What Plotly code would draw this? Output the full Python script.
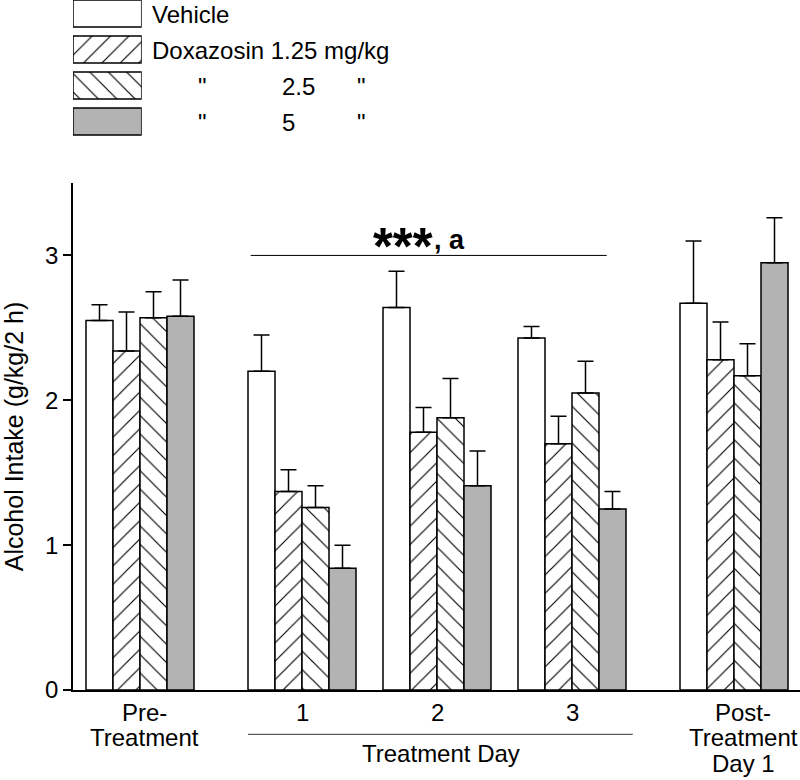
import plotly.graph_objects as go

# ---------------- data ----------------
groups = ["Pre-Treatment", "Day 1", "Day 2", "Day 3", "Post-Treatment Day 1"]
group_label_lines = [["Pre-", "Treatment"], ["1"], ["2"], ["3"], ["Post-", "Treatment", "Day 1"]]
series_names = ["Vehicle", "Doxazosin 1.25 mg/kg", "Doxazosin 2.5 mg/kg", "Doxazosin 5 mg/kg"]
doses = ["1.25", "2.5", "5"]

vehicle_mean = [2.55, 2.20, 2.64, 2.43, 2.67]
vehicle_sem = [0.11, 0.25, 0.25, 0.08, 0.43]
dox125_mean = [2.34, 1.37, 1.78, 1.70, 2.28]
dox125_sem = [0.27, 0.15, 0.17, 0.19, 0.26]
dox25_mean = [2.57, 1.26, 1.88, 2.05, 2.17]
dox25_sem = [0.18, 0.15, 0.27, 0.22, 0.22]
dox5_mean = [2.58, 0.84, 1.41, 1.25, 2.95]
dox5_sem = [0.25, 0.16, 0.24, 0.12, 0.31]

y_ticks = [0, 1, 2, 3]
y_title = "Alcohol Intake (g/kg/2 h)"
sig_stars = "***"
sig_letter = ", a"
treatment_day_label = "Treatment Day"

# ---------------- layout helpers (positions / styles) ----------------
group_pos = [0, 1.2, 2.2, 3.2, 4.4]
bar_w = 0.2
FONT = "Liberation Sans, Arial, Helvetica, sans-serif"
GRAY = "#b3b3b3"

styles = [
    dict(color="white", shape=""),
    dict(color="white", shape="/"),
    dict(color="white", shape="\\"),
    dict(color=GRAY, shape=""),
]
means = [vehicle_mean, dox125_mean, dox25_mean, dox5_mean]
sems = [vehicle_sem, dox125_sem, dox25_sem, dox5_sem]


def make_marker(st):
    marker = dict(color=st["color"], line=dict(color="black", width=1.5))
    if st["shape"]:
        marker["pattern"] = dict(shape=st["shape"], fgcolor="black", bgcolor="white",
                                 size=13, solidity=0.09, fillmode="replace")
    return marker


fig = go.Figure()

for i, (name, m, s, st) in enumerate(zip(series_names, means, sems, styles)):
    fig.add_trace(go.Bar(
        name=name, x=group_pos, y=m, width=bar_w, offset=-2 * bar_w + i * bar_w,
        marker=make_marker(st), showlegend=False,
        error_y=dict(type="data", array=s, arrayminus=[0] * len(s), symmetric=False,
                     color="black", thickness=1.5, width=8),
        customdata=groups, hovertemplate="%{customdata}<br>" + name + ": %{y}<extra></extra>",
    ))

# legend drawn as swatches in an inset axes
for i, (name, st) in enumerate(zip(series_names, styles)):
    fig.add_trace(go.Bar(
        x=[1], y=[i], orientation="h", width=0.75, xaxis="x2", yaxis="y2",
        showlegend=False, hoverinfo="skip", name=name, marker=make_marker(st),
    ))

W, H = 800, 780
ml, mr, mt, mb = 73, 0, 0, 90
pw = W - ml - mr
ph = H - mt - mb
FS = 24


def px_x(px):
    return (px - ml) / pw


annotations = []
# legend texts
annotations.append(dict(text=series_names[0], xref="paper", yref="y2", x=px_x(150), y=0,
                        xanchor="left", yanchor="middle", showarrow=False, yshift=-1))
annotations.append(dict(text=series_names[1], xref="paper", yref="y2", x=px_x(150), y=1,
                        xanchor="left", yanchor="middle", showarrow=False, yshift=-1))
for row, dose in zip([2, 3], doses[1:]):
    annotations.append(dict(text='"', xref="paper", yref="y2", x=px_x(202), y=row,
                            xanchor="center", yanchor="middle", showarrow=False, yshift=-1))
    annotations.append(dict(text=dose, xref="paper", yref="y2", x=px_x(280), y=row,
                            xanchor="left", yanchor="middle", showarrow=False, yshift=-1))
    annotations.append(dict(text='"', xref="paper", yref="y2", x=px_x(361), y=row,
                            xanchor="center", yanchor="middle", showarrow=False, yshift=-1))

# category labels under the axis
label_xshift = [4, 0, 0, 0, 9]
for gx, lines, xs in zip(group_pos, group_label_lines, label_xshift):
    for k, line in enumerate(lines):
        annotations.append(dict(text=line, xref="x", yref="paper", x=gx, y=0,
                                xanchor="center", yanchor="middle", showarrow=False,
                                xshift=xs, yshift=-(22 + 25.5 * k)))
annotations.append(dict(text=treatment_day_label, xref="x", yref="paper", x=2.23, y=0,
                        xanchor="center", yanchor="middle", showarrow=False, yshift=-63))

# significance text
annotations.append(dict(text="<b>" + sig_stars + "</b>", xref="paper", yref="paper",
                        x=px_x(435), y=(ph - 247) / ph, xanchor="right", yanchor="middle",
                        showarrow=False, font=dict(size=51)))
annotations.append(dict(text="<b>" + sig_letter + "</b>", xref="paper", yref="paper",
                        x=px_x(432), y=(ph - 240) / ph, xanchor="left", yanchor="middle",
                        showarrow=False, font=dict(size=27)))

shapes = [
    dict(type="line", xref="x", yref="y", x0=0.82, x1=3.457, y0=3.0, y1=3.0,
         line=dict(color="black", width=1)),
    dict(type="line", xref="x", yref="paper", x0=group_pos[1] - 2 * bar_w, x1=3.65,
         y0=(ph - 734.3) / ph, y1=(ph - 734.3) / ph, line=dict(color="#333333", width=1)),
]

fig.update_layout(
    width=W, height=H,
    margin=dict(l=ml, r=mr, t=mt, b=mb, autoexpand=False),
    plot_bgcolor="white", paper_bgcolor="white",
    font=dict(family=FONT, size=FS, color="black"),
    barmode="overlay",
    showlegend=False,
    xaxis=dict(range=[(ml - 140) / 135, (W - 140) / 135], showline=True, linecolor="black",
               linewidth=1.5, showgrid=False, zeroline=False, showticklabels=False, ticks=""),
    yaxis=dict(range=[0, 3.5], domain=[0, (ph - 183) / ph], showline=True, linecolor="black",
               linewidth=1.5, showgrid=False, zeroline=False, ticks="outside", ticklen=8,
               tickwidth=1.5, tickcolor="black", tickvals=y_ticks, tickfont=dict(size=FS),
               title=dict(text=y_title, font=dict(size=25), standoff=14)),
    xaxis2=dict(domain=[0, 68.7 / pw], range=[0, 1], visible=False, anchor="y2"),
    yaxis2=dict(domain=[(ph - 141) / ph, 1], range=[3.542, -0.375], visible=False, anchor="x2"),
    annotations=annotations,
    shapes=shapes,
)

fig.write_html("out.html", config={"displayModeBar": False},
               post_script="document.body.style.margin='0';document.body.style.overflow='hidden';")
